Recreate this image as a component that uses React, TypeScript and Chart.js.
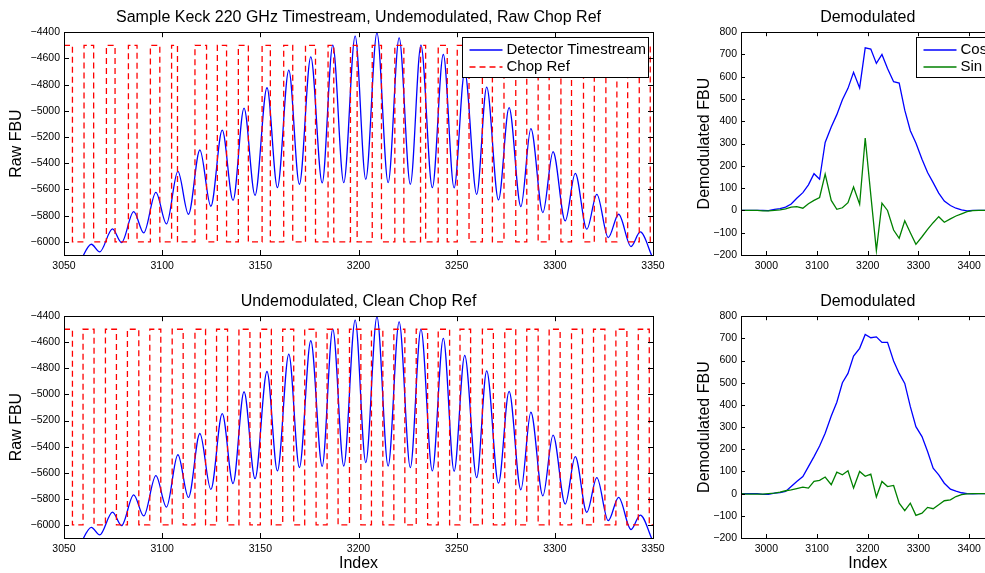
import React, { useEffect, useRef } from "react";
import { Chart, registerables } from "chart.js";

Chart.register(...registerables);

const FONT = "'Liberation Sans', Arial, Helvetica, sans-serif";

// ---------- Detector timestream (extrema of the oscillation) ----------
const TS_INDEX = [
  3058.2, 3063.9, 3068.2, 3074.7, 3079.3, 3085.5, 3090.6, 3096.8, 3102.2, 3108.0,
  3113.4, 3119.2, 3124.8, 3130.6, 3136.1, 3141.7, 3147.3, 3153.4, 3158.7, 3164.5,
  3169.9, 3175.7, 3181.5, 3186.9, 3192.5, 3198.3, 3203.7, 3209.4, 3215.1, 3220.7,
  3226.4, 3231.8, 3237.6, 3243.2, 3248.7, 3254.1, 3260.2, 3265.3, 3271.3, 3276.7,
  3282.7, 3287.8, 3293.9, 3299.1, 3305.3, 3310.4, 3316.3, 3321.4, 3327.2, 3332.5,
  3338.8, 3343.5, 3349.8,
];
const TS_VALUE = [
  -6150, -6018, -6076, -5901, -6005, -5769, -5931, -5622, -5863, -5462,
  -5789, -5299, -5728, -5147, -5683, -4979, -5645, -4824, -5586, -4690,
  -5560, -4588, -5550, -4499, -5548, -4430, -5522, -4405, -5548, -4443,
  -5560, -4499, -5586, -4570, -5588, -4700, -5637, -4819, -5680, -4976,
  -5731, -5136, -5777, -5312, -5840, -5477, -5903, -5637, -5967, -5789,
  -6035, -5924, -6120,
];

// ---------- Chop reference: levels and transition indices ----------
const CHOP_HIGH = -4500;
const CHOP_LOW = -6000;
const CHOP_START = 3050;
const CHOP_END = 3350;
const RAW_CHOP_EDGES = [
  3054.3, 3060.2, 3065.1, 3071.6, 3076.0, 3082.8, 3087.2, 3094.0, 3098.8, 3104.8,
  3107.8, 3116.7, 3122.6, 3128.1, 3132.8, 3138.8, 3143.9, 3150.9, 3155.1, 3161.9,
  3166.5, 3173.0, 3178.1, 3184.5, 3187.4, 3195.9, 3199.3, 3207.0, 3211.7, 3218.5,
  3223.1, 3231.6, 3234.2, 3240.6, 3245.2, 3250.3, 3256.3, 3263.1, 3268.2, 3274.1,
  3280.1, 3285.7, 3291.5, 3297.1, 3303.1, 3308.5, 3314.6, 3320.1, 3326.0, 3331.6,
  3337.1, 3343.0, 3348.6,
];
const CLEAN_CHOP_EDGES = [
  3054.3, 3059.7, 3065.3, 3071.1, 3076.7, 3082.3, 3088.1, 3093.7, 3099.3, 3105.1,
  3110.7, 3116.7, 3122.1, 3127.7, 3133.3, 3139.1, 3144.7, 3150.0, 3155.6, 3161.4,
  3167.0, 3172.6, 3178.4, 3184.0, 3189.6, 3195.4, 3201.2, 3206.6, 3212.4, 3218.0,
  3223.6, 3229.4, 3235.2, 3240.6, 3246.4, 3251.7, 3257.1, 3263.1, 3268.7, 3274.5,
  3280.1, 3285.7, 3291.5, 3297.1, 3302.7, 3308.5, 3314.1, 3319.7, 3325.5, 3331.1,
  3336.7, 3342.5, 3348.1,
];

// ---------- Demodulated outputs ----------
const DEMOD_INDEX = [
  2949, 2960, 2971, 2982, 2993, 3004, 3016, 3027, 3038, 3049,
  3060, 3072, 3083, 3094, 3105, 3116, 3128, 3139, 3150, 3161,
  3172, 3184, 3195, 3206, 3217, 3228, 3239, 3251, 3262, 3273,
  3284, 3295, 3307, 3318, 3329, 3340, 3351, 3363, 3374, 3385,
  3396, 3407, 3419, 3430, 3441, 3452,
];
const RAW_COS = [
  0, 0, 0, 0, 0, -1, 5, 8, 15, 29,
  55, 80, 115, 165, 140, 305, 375, 430, 497, 548,
  620, 550, 730, 724, 660, 700, 637, 578, 572, 450,
  358, 303, 230, 170, 125, 78, 42, 22, 10, 3,
  -2, 0, 0, 0, 0, 0,
];
const RAW_SIN = [
  0, 0, 0, 0, -2, -2, 0, 3, 7, 15,
  17, 10, 30, 45, 58, 163, 45, 5, 12, 35,
  105, 28, 325, 70, -180, 33, 0, -88, -125, -46,
  -100, -152, -118, -85, -55, -28, -53, -38, -25, -15,
  -5, -1, 0, 0, 0, 0,
];
const CLEAN_COS = [
  0, 0, 0, 0, -3, -3, 2, 5, 10, 32,
  55, 77, 122, 167, 215, 272, 350, 412, 500, 542,
  620, 655, 718, 703, 707, 682, 682, 598, 542, 497,
  392, 302, 257, 190, 115, 85, 47, 20, 11, 4,
  0, -1, 0, 0, 0, 0,
];
const CLEAN_SIN = [
  0, -2, -2, -2, -2, 0, 2, 7, 13, 17,
  23, 29, 25, 55, 60, 75, 40, 97, 85, 103,
  25, 100, 78, 88, -15, 55, 32, 37, -43, -77,
  -43, -98, -88, -62, -68, -50, -32, -28, -13, -4,
  -1, 0, 0, 0, 0, 0,
];

// ---------- Axis ticks ----------
const LEFT_X_TICKS = [3050, 3100, 3150, 3200, 3250, 3300, 3350];
const LEFT_Y_TICKS = [-6000, -5800, -5600, -5400, -5200, -5000, -4800, -4600, -4400];
const RIGHT_X_TICKS = [3000, 3100, 3200, 3300, 3400];
const RIGHT_Y_TICKS = [-200, -100, 0, 100, 200, 300, 400, 500, 600, 700, 800];

const BLUE = "#0000ff";
const RED = "#ff0000";
const GREEN = "#008000";
const DASH = [6, 4];
const LINE_W = 1.3;

const fmt = (v: number) => (v < 0 ? "\u2212" + Math.abs(v) : String(v));

function chopPoints(edges: number[]) {
  const pts: { x: number; y: number }[] = [];
  let level = CHOP_HIGH;
  pts.push({ x: CHOP_START, y: level });
  for (const e of edges) {
    const next = level === CHOP_HIGH ? CHOP_LOW : CHOP_HIGH;
    pts.push({ x: e, y: level });
    pts.push({ x: e, y: next });
    level = next;
  }
  pts.push({ x: CHOP_END, y: level });
  return pts;
}

const zip = (xs: number[], ys: number[]) => xs.map((x, i) => ({ x, y: ys[i] }));

type LegendItem = { label: string; color: string; dashed?: boolean };

const framePlugin = {
  id: "matlabFrame",
  afterDatasetsDraw(chart: any) {
    const { ctx, chartArea } = chart;
    const extra = chart.config.options.matlab || {};
    const { left, right, top, bottom } = chartArea;
    const xs = chart.scales.x;
    const ys = chart.scales.y;
    const tl = extra.tickLen || 5;
    ctx.save();
    ctx.strokeStyle = "#000";
    ctx.lineWidth = 1;
    ctx.setLineDash([]);
    ctx.beginPath();
    for (const t of xs.ticks) {
      const px = Math.round(xs.getPixelForValue(t.value)) + 0.5;
      ctx.moveTo(px, bottom);
      ctx.lineTo(px, bottom - tl);
      ctx.moveTo(px, top);
      ctx.lineTo(px, top + tl);
    }
    for (const t of ys.ticks) {
      const py = Math.round(ys.getPixelForValue(t.value)) + 0.5;
      ctx.moveTo(left, py);
      ctx.lineTo(left + tl, py);
      ctx.moveTo(right, py);
      ctx.lineTo(right - tl, py);
    }
    ctx.stroke();
    ctx.strokeRect(Math.round(left) + 0.5, Math.round(top) + 0.5, Math.round(right - left), Math.round(bottom - top));

    const items: LegendItem[] | undefined = extra.legend;
    if (items && items.length) {
      ctx.font = `15px ${FONT}`;
      const textW = Math.max(...items.map((it) => ctx.measureText(it.label).width));
      const w = Math.round(7 + 33 + 4 + textW + 3);
      const h = 40;
      const bx = Math.round(right - 5 - w) + 0.5;
      const by = Math.round(top + 5) + 0.5;
      ctx.fillStyle = "#ffffff";
      ctx.fillRect(bx, by, w, h);
      ctx.strokeStyle = "#000000";
      ctx.lineWidth = 1;
      ctx.strokeRect(bx, by, w, h);
      items.forEach((it, i) => {
        const cy = Math.round(by + 12 + i * 17.5);
        ctx.save();
        ctx.strokeStyle = it.color;
        ctx.lineWidth = LINE_W;
        ctx.setLineDash(it.dashed ? DASH : []);
        ctx.beginPath();
        ctx.moveTo(bx + 7, cy);
        ctx.lineTo(bx + 40, cy);
        ctx.stroke();
        ctx.restore();
        ctx.fillStyle = "#000000";
        ctx.textAlign = "left";
        ctx.textBaseline = "middle";
        ctx.fillText(it.label, bx + 44, cy);
      });
    }
    ctx.restore();
  },
};

type PanelCfg = {
  left: number;
  top: number;
  width: number;
  height: number;
  title: string;
  yTitle: string;
  xTitle?: string;
  xMin: number;
  xMax: number;
  yMin: number;
  yMax: number;
  xTicks: number[];
  yTicks: number[];
  yAxisWidth: number;
  xAxisHeight: number;
  padRight: number;
  yTitlePad: number;
  tickLen: number;
  datasets: any[];
  legend?: LegendItem[];
};

function buildConfig(c: PanelCfg): any {
  return {
    type: "line",
    data: { datasets: c.datasets },
    plugins: [framePlugin],
    options: {
      responsive: false,
      animation: false,
      devicePixelRatio: 1,
      matlab: { tickLen: c.tickLen, legend: c.legend },
      layout: { padding: { left: 0, top: 0, right: c.padRight, bottom: 0 } },
      elements: { point: { radius: 0, hoverRadius: 0 } },
      plugins: {
        legend: { display: false },
        tooltip: { enabled: false },
        title: {
          display: true,
          text: c.title,
          fullSize: false,
          color: "#000",
          font: { family: FONT, size: 16, weight: "normal", lineHeight: 1.2 },
          padding: { top: 8, bottom: 5 },
        },
      },
      scales: {
        x: {
          type: "linear",
          position: "bottom",
          min: c.xMin,
          max: c.xMax,
          grid: { display: false, drawTicks: false },
          border: { display: false },
          afterBuildTicks: (s: any) => {
            s.ticks = c.xTicks.map((v) => ({ value: v }));
          },
          afterFit: (s: any) => {
            s.height = c.xAxisHeight;
            s.paddingLeft = 0;
            s.paddingRight = 0;
          },
          ticks: {
            autoSkip: false,
            maxRotation: 0,
            padding: 5,
            color: "#000",
            font: { family: FONT, size: 10.5 },
            callback: (v: any) => fmt(Number(v)),
          },
          title: {
            display: !!c.xTitle,
            text: c.xTitle || "",
            color: "#000",
            font: { family: FONT, size: 16, lineHeight: 1.2 },
            padding: { top: 0, bottom: 0 },
          },
        },
        y: {
          type: "linear",
          position: "left",
          min: c.yMin,
          max: c.yMax,
          grid: { display: false, drawTicks: false },
          border: { display: false },
          afterBuildTicks: (s: any) => {
            s.ticks = c.yTicks.map((v) => ({ value: v }));
          },
          afterFit: (s: any) => {
            s.width = c.yAxisWidth;
            s.paddingTop = 0;
            s.paddingBottom = 0;
          },
          ticks: {
            autoSkip: false,
            padding: 4,
            color: "#000",
            font: { family: FONT, size: 10.5 },
            callback: (v: any) => fmt(Number(v)),
          },
          title: {
            display: true,
            text: c.yTitle,
            color: "#000",
            font: { family: FONT, size: 16, lineHeight: 1.2 },
            padding: { top: c.yTitlePad, bottom: 0 },
          },
        },
      },
    },
  };
}

function Panel({ cfg }: { cfg: PanelCfg }) {
  const ref = useRef<HTMLCanvasElement>(null);
  useEffect(() => {
    if (!ref.current) return;
    const chart = new Chart(ref.current, buildConfig(cfg));
    return () => chart.destroy();
  }, []);
  return (
    <canvas
      ref={ref}
      width={cfg.width}
      height={cfg.height}
      style={{ position: "absolute", left: cfg.left, top: cfg.top, width: cfg.width, height: cfg.height }}
    />
  );
}

const tsDataset = () => ({
  label: "Detector Timestream",
  data: zip(TS_INDEX, TS_VALUE),
  borderColor: BLUE,
  borderWidth: LINE_W,
  cubicInterpolationMode: "monotone",
  fill: false,
  order: 2,
});
const chopDataset = (edges: number[]) => ({
  label: "Chop Ref",
  data: chopPoints(edges),
  borderColor: RED,
  borderWidth: LINE_W,
  borderDash: DASH,
  tension: 0,
  fill: false,
  order: 1,
});
const cosDataset = (vals: number[]) => ({
  label: "Cos",
  data: zip(DEMOD_INDEX, vals),
  borderColor: BLUE,
  borderWidth: LINE_W,
  tension: 0,
  fill: false,
  order: 2,
});
const sinDataset = (vals: number[]) => ({
  label: "Sin",
  data: zip(DEMOD_INDEX, vals),
  borderColor: GREEN,
  borderWidth: LINE_W,
  tension: 0,
  fill: false,
  order: 1,
});

const leftCommon = {
  left: 0,
  width: 672,
  xMin: 3050,
  xMax: 3350,
  yMin: -6100,
  yMax: -4400,
  xTicks: LEFT_X_TICKS,
  yTicks: LEFT_Y_TICKS,
  yAxisWidth: 64,
  padRight: 19,
  yTitlePad: 7,
  tickLen: 5,
  yTitle: "Raw FBU",
};
const rightCommon = {
  left: 660,
  width: 341,
  xMin: 2950,
  xMax: 3450,
  yMin: -200,
  yMax: 800,
  xTicks: RIGHT_X_TICKS,
  yTicks: RIGHT_Y_TICKS,
  yAxisWidth: 81,
  padRight: 6.5,
  yTitlePad: 35.4,
  tickLen: 4,
  yTitle: "Demodulated FBU",
};

const PANELS: PanelCfg[] = [
  {
    ...leftCommon,
    top: 0,
    height: 284,
    title: "Sample Keck 220 GHz Timestream, Undemodulated, Raw Chop Ref",
    xAxisHeight: 29,
    datasets: [tsDataset(), chopDataset(RAW_CHOP_EDGES)],
    legend: [
      { label: "Detector Timestream", color: BLUE },
      { label: "Chop Ref", color: RED, dashed: true },
    ],
  },
  {
    ...leftCommon,
    top: 284,
    height: 289,
    title: "Undemodulated, Clean Chop Ref",
    xTitle: "Index",
    xAxisHeight: 35,
    datasets: [tsDataset(), chopDataset(CLEAN_CHOP_EDGES)],
  },
  {
    ...rightCommon,
    top: 0,
    height: 284,
    title: "Demodulated",
    xAxisHeight: 29,
    datasets: [cosDataset(RAW_COS), sinDataset(RAW_SIN)],
    legend: [
      { label: "Cos", color: BLUE },
      { label: "Sin", color: GREEN },
    ],
  },
  {
    ...rightCommon,
    top: 284,
    height: 289,
    title: "Demodulated",
    xTitle: "Index",
    xAxisHeight: 35,
    datasets: [cosDataset(CLEAN_COS), sinDataset(CLEAN_SIN)],
  },
];

export default function App() {
  return (
    <div
      style={{
        position: "absolute",
        left: 0,
        top: 0,
        width: 985,
        height: 573,
        overflow: "hidden",
        background: "#fff",
      }}
    >
      {PANELS.map((p, i) => (
        <Panel key={i} cfg={p} />
      ))}
    </div>
  );
}
